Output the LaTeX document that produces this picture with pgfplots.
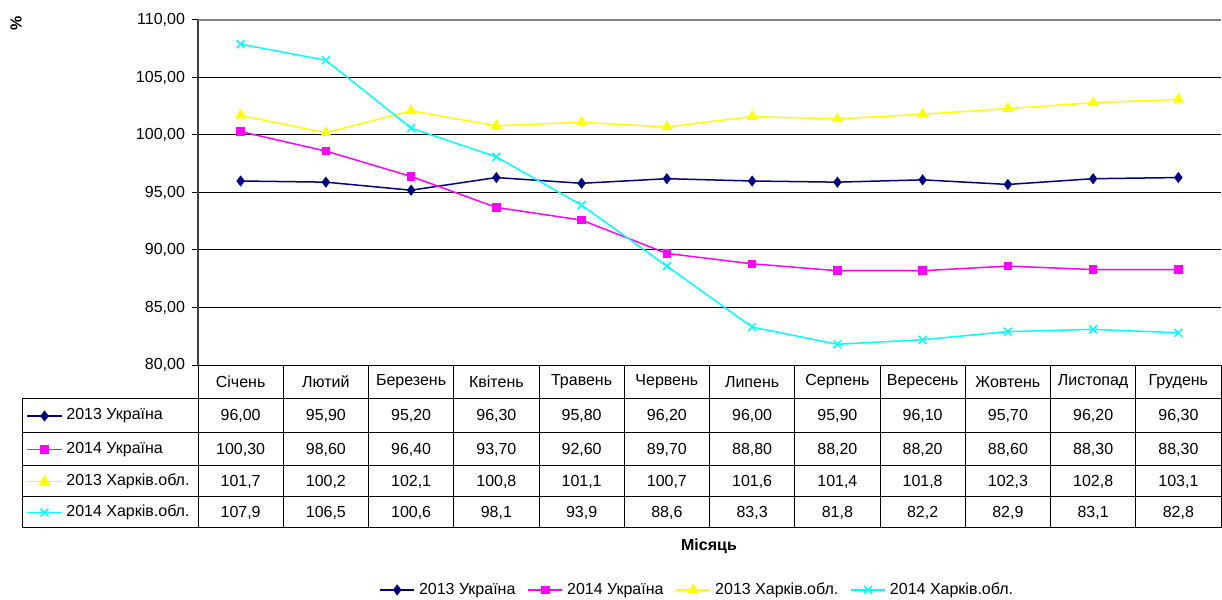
\documentclass[border=0pt]{standalone}
\usepackage{pgfplots}
\pgfplotsset{compat=1.18}
\usepackage{pgfplotstable}
\usepackage{fontspec}
\setmainfont{Liberation Sans}
\definecolor{navyc}{RGB}{0,0,128}
\definecolor{magc}{RGB}{255,0,255}
\definecolor{yelc}{RGB}{255,255,0}
\definecolor{cyac}{RGB}{0,255,255}
\pgfkeys{/pgf/number format/assume math mode=true}

\pgfplotstableread{
m a b c d
0 96.00 100.30 101.7 107.9
1 95.90 98.60 100.2 106.5
2 95.20 96.40 102.1 100.6
3 96.30 93.70 100.8 98.1
4 95.80 92.60 101.1 93.9
5 96.20 89.70 100.7 88.6
6 96.00 88.80 101.6 83.3
7 95.90 88.20 101.4 81.8
8 96.10 88.20 101.8 82.2
9 95.70 88.60 102.3 82.9
10 96.20 88.30 102.8 83.1
11 96.30 88.30 103.1 82.8
}\data

\pgfplotsset{
  s1/.style={navyc, line width=0.75pt, mark=diamond*, mark size=2.2pt, mark options={fill=navyc, draw=navyc, solid}},
  s2/.style={magc, line width=0.75pt, mark=square*, mark size=1.75pt, mark options={fill=magc, draw=magc, solid}},
  s3/.style={yelc, line width=0.75pt, mark=triangle*, mark size=2.5pt, mark options={fill=yelc, draw=yelc, solid}},
  s4/.style={cyac, line width=0.75pt, mark=x, mark size=2.8pt, mark options={draw=cyac, solid}},
}
\newcommand{\tf}{\fontsize{8}{9.6}\selectfont}

\begin{document}
\begin{tikzpicture}
\useasboundingbox (0,0) rectangle (611pt,300pt);
\begin{axis}[
  at={(99pt,117.5pt)}, anchor=south west, scale only axis,
  width=511.5pt, height=172.5pt,
  xmin=-0.5, xmax=11.5, ymin=80, ymax=110,
  xtick=\empty, ytick={80,85,...,110},
  ytick pos=left, tick align=outside, major tick length=3pt,
  tick style={black, line width=0.5pt},
  ymajorgrids, grid style={black, line width=0.5pt},
  axis line style={draw=none},
  yticklabel style={font=\tf, /pgf/number format/fixed, /pgf/number format/fixed zerofill, /pgf/number format/precision=2, /pgf/number format/use comma},
  legend style={draw=none, fill=none, font=\tf, legend columns=4,
    at={(axis description cs:0.489,-0.652)}, anchor=center,
    /tikz/every even column/.append style={column sep=4pt}},
  clip=false
]
\addplot[s1] table[x=m, y=a] {\data}; \addlegendentry{2013 Україна}
\addplot[s2] table[x=m, y=b] {\data}; \addlegendentry{2014 Україна}
\addplot[s3] table[x=m, y=c] {\data}; \addlegendentry{2013 Харків.обл.}
\addplot[s4] table[x=m, y=d] {\data}; \addlegendentry{2014 Харків.обл.}
\draw[black!75, line width=0.8pt] (rel axis cs:0,0) -- (rel axis cs:0,1);
\draw[black, line width=0.5pt] (rel axis cs:0,0) -- (rel axis cs:1,0);
\draw[gray, line width=1pt] (rel axis cs:0,1) -- (rel axis cs:1,1);
\end{axis}

% legend keys of the data table
\begin{axis}[
  at={(0,0)}, anchor=south west, scale only axis,
  width=611pt, height=300pt,
  xmin=0, xmax=1222, ymin=0, ymax=600, y dir=reverse,
  hide axis, clip=false
]
\addplot[s1, mark indices={2}] coordinates {(27,416) (44.5,416) (62,416)};
\addplot[s2, mark indices={2}] coordinates {(27,449.5) (44.5,449.5) (62,449.5)};
\addplot[s3, mark indices={2}] coordinates {(27,481.5) (44.5,481.5) (62,481.5)};
\addplot[s4, mark indices={2}] coordinates {(27,512.5) (44.5,512.5) (62,512.5)};
\end{axis}

% data table
\begin{scope}[x=0.5pt, y=-0.5pt, shift={(0pt,300pt)}]
  \foreach \yy in {399,433,466,497,528} {
    \draw[black, line width=0.5pt] (22,\yy) -- (1221,\yy);
  }
  \draw[black, line width=0.5pt] (22,399) -- (22,528);
  \foreach \k in {0,...,12} {
    \draw[black, line width=0.5pt] ({198+\k*85.25},365) -- ({198+\k*85.25},528);
  }
  \foreach \mn [count=\k from 0] in {Січень,Лютий,Березень,Квітень,Травень,Червень,Липень,Серпень,Вересень,Жовтень,Листопад,Грудень} {
    \node[font=\tf, inner sep=0pt] at ({198+(\k+0.5)*85.25},382) {\mn};
  }
  \node[font=\tf, anchor=west, inner sep=0pt] at (66,416) {2013 Україна};
  \node[font=\tf, anchor=west, inner sep=0pt] at (66,449.5) {2014 Україна};
  \node[font=\tf, anchor=west, inner sep=0pt] at (66,481.5) {2013 Харків.обл.};
  \node[font=\tf, anchor=west, inner sep=0pt] at (66,512.5) {2014 Харків.обл.};
  \foreach \k in {0,...,11} {
    \pgfplotstablegetelem{\k}{a}\of\data \let\va\pgfplotsretval
    \pgfplotstablegetelem{\k}{b}\of\data \let\vb\pgfplotsretval
    \pgfplotstablegetelem{\k}{c}\of\data \let\vc\pgfplotsretval
    \pgfplotstablegetelem{\k}{d}\of\data \let\vd\pgfplotsretval
    \node[font=\tf, inner sep=0pt] at ({198+(\k+0.5)*85.25},416) {\pgfmathprintnumber[fixed,fixed zerofill,precision=2,use comma]{\va}};
    \node[font=\tf, inner sep=0pt] at ({198+(\k+0.5)*85.25},449.5) {\pgfmathprintnumber[fixed,fixed zerofill,precision=2,use comma]{\vb}};
    \node[font=\tf, inner sep=0pt] at ({198+(\k+0.5)*85.25},481.5) {\pgfmathprintnumber[fixed,fixed zerofill,precision=1,use comma]{\vc}};
    \node[font=\tf, inner sep=0pt] at ({198+(\k+0.5)*85.25},512.5) {\pgfmathprintnumber[fixed,fixed zerofill,precision=1,use comma]{\vd}};
  }
  \node[font=\tf\bfseries, inner sep=0pt] at (709,546) {Місяць};
  \node[font=\tf\bfseries, inner sep=0pt, rotate=90] at (16,23) {\%};
\end{scope}
\end{tikzpicture}
\end{document}
